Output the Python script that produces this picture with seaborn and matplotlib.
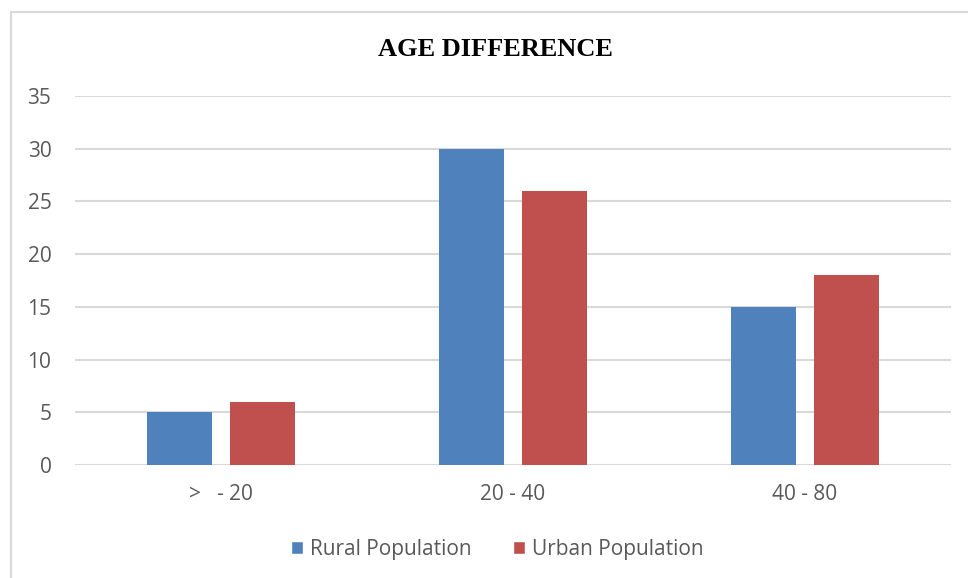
import matplotlib
matplotlib.use("Agg")
import matplotlib.pyplot as plt
import seaborn as sns
import pandas as pd
from matplotlib.patches import Rectangle, Patch

categories = [">   - 20", "20 - 40", "40 - 80"]
series_names = ["Rural Population", "Urban Population"]
rural = [5, 30, 15]
urban = [6, 26, 18]
colors = ["#4f81bd", "#c0504d"]
yticks = [0, 5, 10, 15, 20, 25, 30, 35]

df = pd.DataFrame({
    "group": categories * 2,
    "series": [series_names[0]] * 3 + [series_names[1]] * 3,
    "value": rural + urban,
})

sns.set_theme(style="white")
plt.rcParams["font.family"] = ["Open Sans", "DejaVu Sans"]

W, H = 968, 578
fig = plt.figure(figsize=(W / 100, H / 100), dpi=100)
ax = fig.add_axes([75 / W, 1 - 465 / H, (951 - 75) / W, (465 - 96) / H])

sns.barplot(data=df, x="group", y="value", hue="series", order=categories,
            hue_order=series_names, palette=colors, width=0.568, gap=0.216,
            saturation=1, ax=ax, legend=False, zorder=3, linewidth=0)

ax.set_xlim(-0.5, 2.5)
ax.set_ylim(0, 35)
ax.set_yticks(yticks)
ax.yaxis.grid(True, color="#d9d9d9", linewidth=1.5, zorder=0)
ax.set_axisbelow(True)
for s in ax.spines.values():
    s.set_visible(False)
ax.set_xlabel("")
ax.set_ylabel("")
ax.tick_params(axis="both", length=0, labelsize=15, colors="#595959")
ax.tick_params(axis="y", pad=17)
ax.tick_params(axis="x", pad=14)

# chart frame
fig.patches.append(Rectangle((11 / W, -0.1), 1.2, 1 - 12 / H + 0.1,
                             transform=fig.transFigure, fill=False,
                             edgecolor="#d9d9d9", linewidth=1.5))

fig.text(495 / W, 1 - 49 / H, "AGE DIFFERENCE", ha="center", va="center",
         fontsize=19, fontweight="bold", family="Liberation Serif", color="black")

handles = [Patch(facecolor=c, label=n) for c, n in zip(colors, series_names)]
fig.legend(handles=handles, loc="center", bbox_to_anchor=(497 / W, 1 - 549 / H),
           ncol=2, frameon=False, fontsize=15, labelcolor="#595959",
           handlelength=0.6, handleheight=0.6, handletextpad=0.3, columnspacing=2.0)

fig.savefig("out.png", dpi=100, facecolor="white")
